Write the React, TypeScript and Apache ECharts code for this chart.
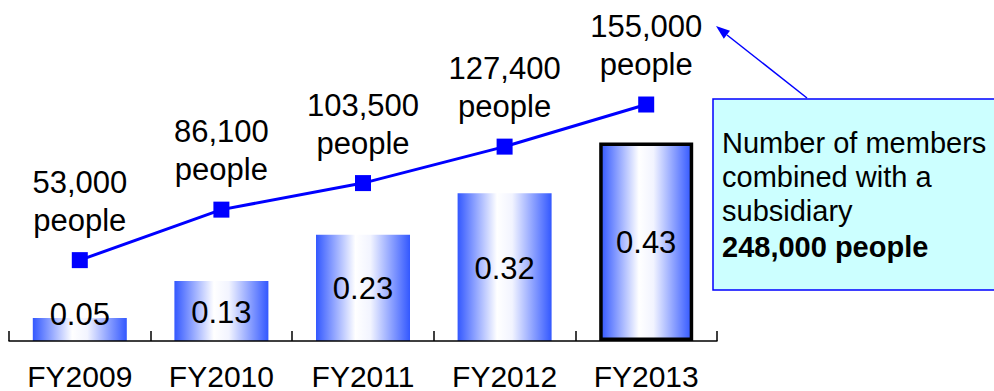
import React, { useEffect, useRef } from "react";
import * as echarts from "echarts";

const categories = ["FY2009", "FY2010", "FY2011", "FY2012", "FY2013"];
const barValues = [0.05, 0.13, 0.23, 0.32, 0.43];
const memberValues = [53000, 86100, 103500, 127400, 155000];
const calloutLines = ["Number of members", "combined with a", "subsidiary"];
const calloutBold = "248,000 people";

const FONT = "Arial, 'Liberation Sans', Helvetica, sans-serif";

export default function App() {
  const ref = useRef<HTMLDivElement>(null);
  useEffect(() => {
    if (!ref.current) return;
    const chart = echarts.init(ref.current, null, { renderer: "svg" });
    const grad = new echarts.graphic.LinearGradient(0, 0, 1, 0, [
      { offset: 0, color: "#3358ff" },
      { offset: 0.42, color: "#ffffff" },
      { offset: 0.58, color: "#f2f4ff" },
      { offset: 1, color: "#3358ff" },
    ]);
    const barData = barValues.map((v, i) => {
      const d: any = { value: v };
      if (i === 0) d.label = { offset: [0, -15] };
      if (i === barValues.length - 1)
        d.itemStyle = { color: grad, borderColor: "#000", borderWidth: 3.5 };
      return d;
    });
    chart.setOption({
      animation: false,
      backgroundColor: "#ffffff",
      grid: { left: 9, right: 277, top: 0, bottom: 49, containLabel: false },
      xAxis: {
        type: "category",
        data: categories,
        axisLine: { show: true, lineStyle: { color: "#000", width: 1.5 } },
        axisTick: {
          show: true,
          inside: true,
          interval: 0,
          length: 10,
          lineStyle: { color: "#000", width: 1.5 },
        },
        axisLabel: { color: "#000", fontSize: 30, fontFamily: FONT, margin: 20, interval: 0 },
        z: 10,
      },
      yAxis: [
        { type: "value", min: 0, max: 0.739, show: false, splitLine: { show: false } },
        { type: "value", min: 0, max: 223500, show: false, splitLine: { show: false } },
      ],
      series: [
        {
          type: "bar",
          yAxisIndex: 0,
          data: barData,
          barWidth: 94,
          itemStyle: { color: grad },
          label: {
            show: true,
            position: "inside",
            color: "#000",
            fontSize: 31,
            fontFamily: FONT,
            offset: [0, 1],
            formatter: (p: any) => p.value.toFixed(2),
          },
          z: 2,
        },
        {
          type: "line",
          yAxisIndex: 1,
          data: memberValues,
          symbol: "rect",
          symbolSize: 16,
          lineStyle: { color: "#0000ff", width: 3 },
          itemStyle: { color: "#0000ff" },
          label: {
            show: true,
            position: "top",
            distance: 13,
            color: "#000",
            fontSize: 31,
            lineHeight: 38,
            fontFamily: FONT,
            formatter: (p: any) => p.value.toLocaleString("en-US") + "\npeople",
          },
          z: 5,
        },
      ],
      graphic: [
        {
          type: "rect",
          shape: { x: 713, y: 99, width: 300, height: 191 },
          style: { fill: "#ccffff", stroke: "#0000ff", lineWidth: 1.5 },
          z: 10,
        },
        {
          type: "text",
          x: 722,
          y: 126,
          style: {
            text: calloutLines.join("\n"),
            font: `29px ${FONT}`,
            fill: "#000",
            lineHeight: 34,
          },
          z: 11,
        },
        {
          type: "text",
          x: 722,
          y: 230,
          style: {
            text: calloutBold,
            font: `bold 29px ${FONT}`,
            fill: "#000",
            lineHeight: 34,
          },
          z: 11,
        },
        {
          type: "line",
          shape: { x1: 807, y1: 98, x2: 727, y2: 35 },
          style: { stroke: "#0000ff", lineWidth: 1.5 },
          z: 10,
        },
        {
          type: "polygon",
          shape: { points: [[716, 26], [730, 30.8], [723.8, 38.7]] },
          style: { fill: "#0000ff" },
          z: 10,
        },
      ],
    });
    return () => chart.dispose();
  }, []);
  return (
    <div
      ref={ref}
      style={{ position: "fixed", left: 0, top: 0, width: 994, height: 391, background: "#fff" }}
    />
  );
}
